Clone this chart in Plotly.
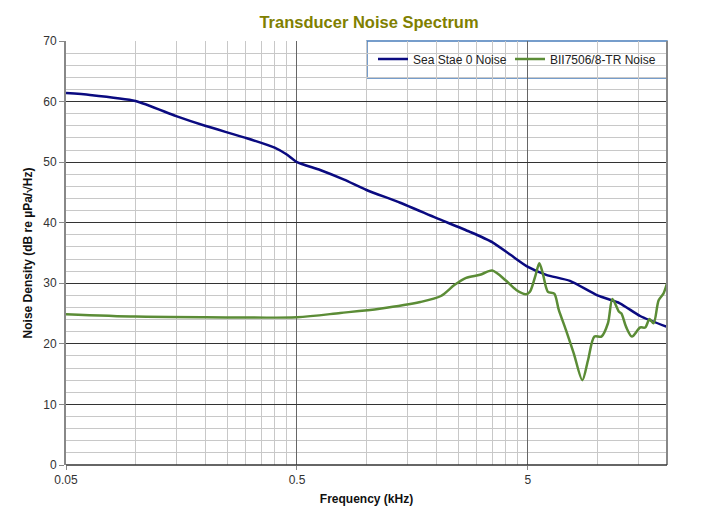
import plotly.graph_objects as go

# Sea State 0 noise
sea_f = [0.05, 0.0635, 0.1, 0.15, 0.2, 0.3, 0.4, 0.45, 0.5, 0.63, 0.8, 1.0, 1.4, 2.0, 2.8, 3.5, 4.2, 5.0, 6.0, 7.6, 10.0, 12.5, 15.3, 20.0]
sea_v = [61.4, 61.1, 60.1, 57.6, 56.0, 54.0, 52.4, 51.3, 50.0, 48.7, 47.1, 45.4, 43.3, 40.8, 38.5, 36.8, 34.7, 32.7, 31.4, 30.4, 28.0, 26.7, 24.6, 22.8]

# BII7506/8-TR noise
bii_f = [0.05, 0.1, 0.2, 0.5, 0.77, 1.14, 1.71, 2.1, 2.4, 2.7, 3.1, 3.5, 4.0, 4.45, 4.9, 5.1, 5.4, 5.6, 5.8, 6.1, 6.5, 6.8, 7.3, 7.9, 8.6, 9.1, 9.7, 10.4, 11.1, 11.6, 12.4, 12.7, 13.3, 14.1, 15.3, 16.1, 16.8, 17.5, 18.4, 19.3, 20.0]
bii_v = [24.9, 24.5, 24.4, 24.4, 25.1, 25.8, 26.9, 27.9, 29.7, 30.9, 31.4, 32.1, 30.5, 28.9, 28.2, 28.6, 31.4, 33.3, 31.6, 28.6, 28.3, 25.6, 22.3, 18.4, 14.0, 17.3, 21.2, 21.2, 23.4, 27.4, 25.3, 25.0, 22.8, 21.2, 22.7, 22.7, 24.1, 23.4, 27.2, 28.3, 30.0]

x_tickvals = [0.05, 0.5, 5]
x_ticktext = ["0.05", "0.5", "5"]
x_minor = [0.05 * k for k in range(2, 10)] + [0.5 * k for k in range(2, 10)] + [5 * k for k in range(2, 5)]

# page body has an 8px margin; figure coordinates = screen - 8
OFF = 8
PL, PR, PT, PB = 66, 667, 41, 465  # plot area in screen pixels
W, H = 704, 511
PW, PH = PR - PL, PB - PT


def px(xs):
    return (xs - PL) / PW


def py(ys):
    return (PB - ys) / PH


fig = go.Figure()
fig.add_trace(go.Scatter(x=sea_f, y=sea_v, mode="lines", name="Sea Stae 0 Noise", legend="legend",
                         line=dict(color="#0a0a80", width=2.5, shape="spline", smoothing=0.6)))
fig.add_trace(go.Scatter(x=bii_f, y=bii_v, mode="lines", name="BII7506/8-TR Noise", legend="legend2",
                         line=dict(color="#5b8c36", width=2.5, shape="spline", smoothing=0.8)))

font = "Liberation Sans, Arial, sans-serif"
leg_common = dict(orientation="h", xanchor="left", yanchor="middle", y=py(59),
                  bgcolor="rgba(0,0,0,0)", borderwidth=0, font=dict(size=12, color="#222222"),
                  itemwidth=30)
fig.update_layout(
    width=W, height=H,
    margin=dict(l=PL - OFF, r=W - (PR - OFF), t=PT - OFF, b=H - (PB - OFF), autoexpand=False),
    paper_bgcolor="white", plot_bgcolor="white",
    font=dict(family=font, size=12, color="#222222"),
    title=dict(text="<b>Transducer Noise Spectrum</b>", x=(369 - OFF) / W, xanchor="center",
               y=1 - (22 - OFF) / H, yanchor="middle",
               font=dict(family=font, size=16.5, color="#808000")),
    showlegend=True,
    legend=dict(x=px(373), **leg_common),
    legend2=dict(x=px(510), **leg_common),
    xaxis=dict(type="log", range=[-1.30103, 1.30103], automargin=False,
               tickmode="array", tickvals=x_tickvals, ticktext=x_ticktext,
               showgrid=True, gridcolor="#666666", gridwidth=1.3,
               ticks="outside", ticklen=4, tickcolor="#888888",
               minor=dict(tickmode="array", tickvals=x_minor, showgrid=True,
                          gridcolor="#c8c8c8", gridwidth=1, ticks=""),
               showline=False, zeroline=False,
               title=dict(text="<b>Frequency (kHz)</b>", font=dict(size=12, color="#111111"), standoff=8),
               tickfont=dict(size=12, color="#333333")),
    yaxis=dict(range=[0, 70], tickmode="linear", tick0=0, dtick=10, automargin=False,
               showgrid=True, gridcolor="#333333", gridwidth=1,
               ticks="outside", ticklen=5, tickcolor="#888888",
               minor=dict(dtick=2, showgrid=True, gridcolor="#c8c8c8", gridwidth=1, ticks=""),
               showline=True, linecolor="#888888", linewidth=2,
               zeroline=False,
               title=dict(text="<b>Noise Density (dB re µPa/√Hz)</b>", font=dict(size=12, color="#111111"), standoff=8),
               tickfont=dict(size=12, color="#333333")),
)

# legend box, plot right edge and bottom edge
fig.add_shape(type="rect", xref="paper", yref="paper", x0=px(367), x1=1.0, y0=py(78), y1=1.0,
              line=dict(color="#4a7ebb", width=1.5), fillcolor="white", layer="below")
fig.add_shape(type="line", xref="paper", yref="paper", x0=1, x1=1, y0=0, y1=1,
              line=dict(color="#888888", width=2))
fig.add_shape(type="line", xref="paper", yref="paper", x0=0, x1=1, y0=0, y1=0,
              line=dict(color="#333333", width=1.5))

fig.write_html("out.html")
